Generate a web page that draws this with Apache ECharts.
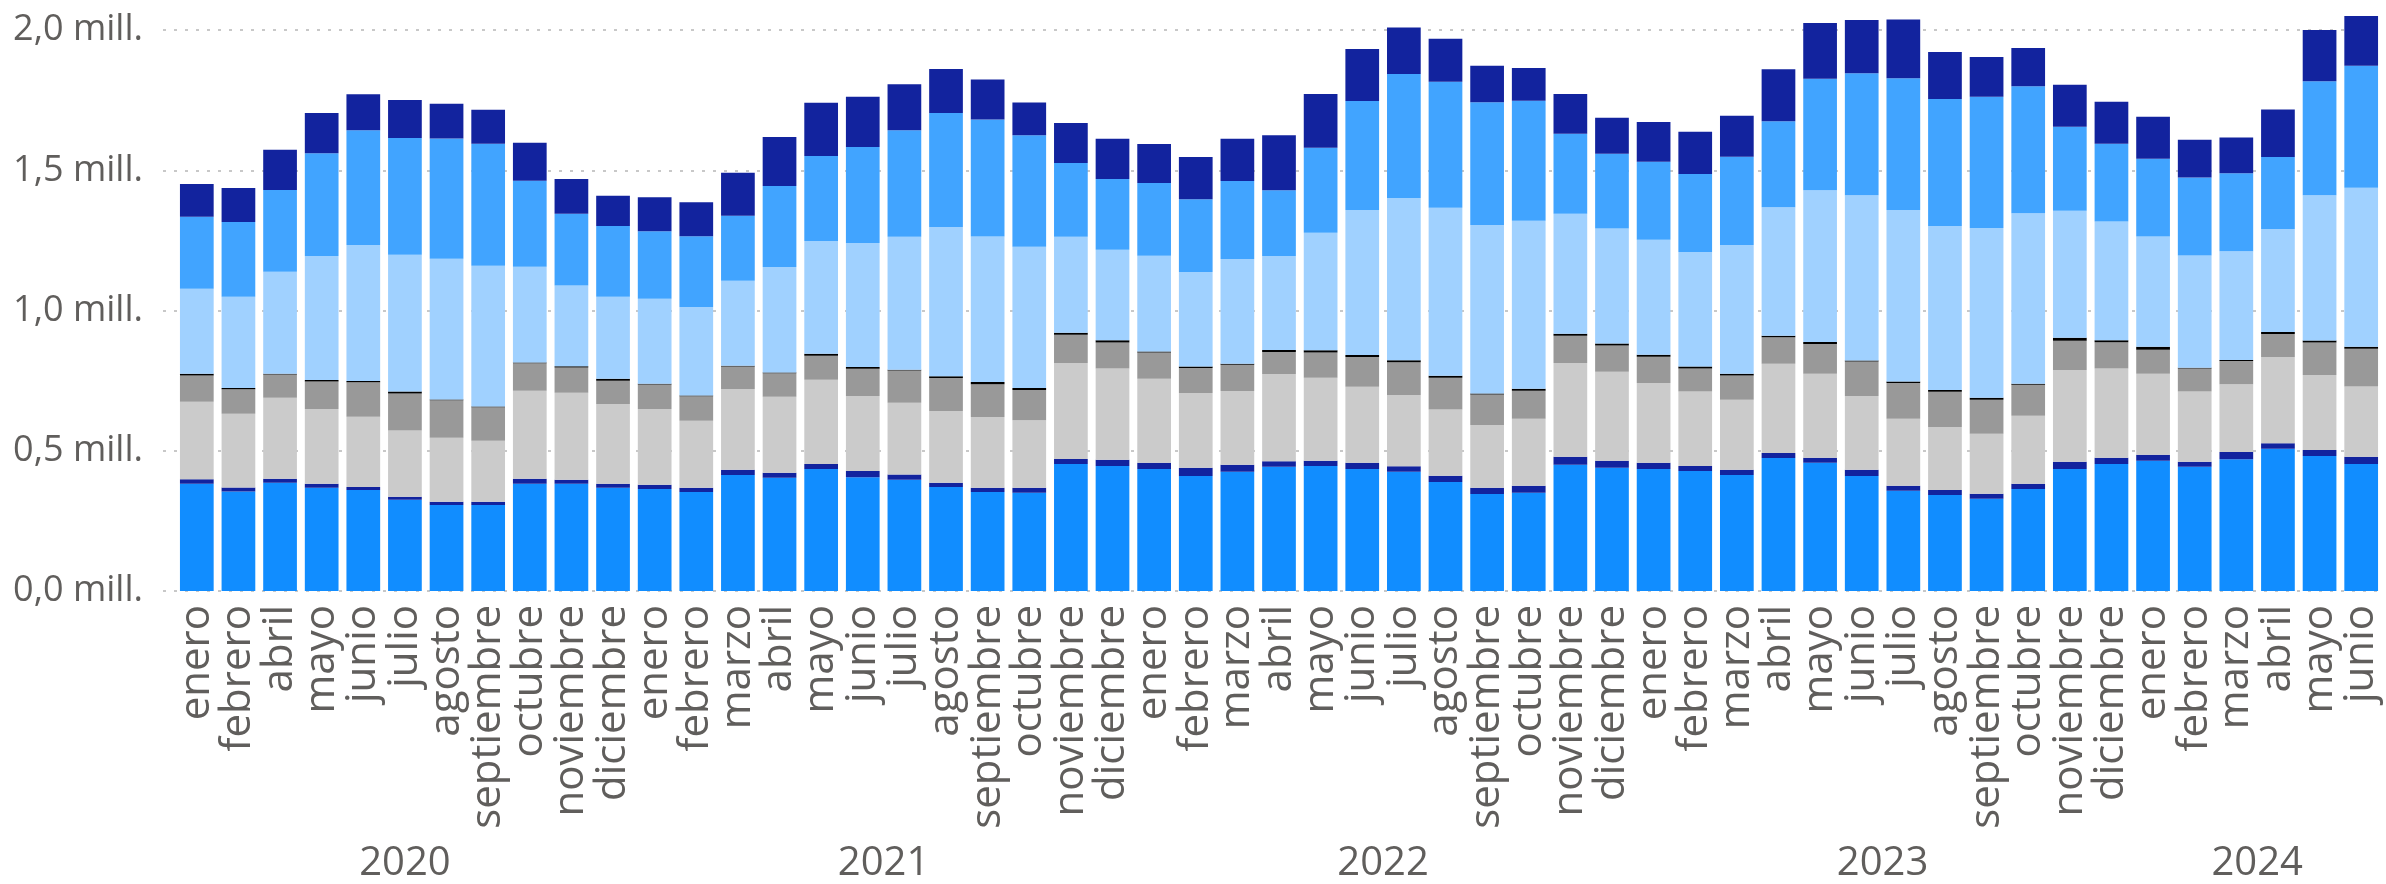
<!DOCTYPE html>
<html>
<head>
<meta charset="utf-8">
<script src="https://cdn.jsdelivr.net/npm/echarts@6/dist/echarts.min.js"></script>
<style>
  html, body { margin: 0; padding: 0; background: #ffffff; }
  #chart { width: 2386px; height: 884px; }
</style>
</head>
<body>
<div id="chart"></div>
<script>
// Monthly categories (2020 has no "marzo")
const months = [
  'enero','febrero','abril','mayo','junio','julio','agosto','septiembre','octubre','noviembre','diciembre',
  'enero','febrero','marzo','abril','mayo','junio','julio','agosto','septiembre','octubre','noviembre','diciembre',
  'enero','febrero','marzo','abril','mayo','junio','julio','agosto','septiembre','octubre','noviembre','diciembre',
  'enero','febrero','marzo','abril','mayo','junio','julio','agosto','septiembre','octubre','noviembre','diciembre',
  'enero','febrero','marzo','abril','mayo','junio'
];
const years = ['2020', '2021', '2022', '2023', '2024'];
const monthsPerYear = [11, 12, 12, 12, 6];
const yTicks = [0, 500, 1000, 1500, 2000];

// Stacked components, in thousands, bottom to top
const serie1 = [382,355,386,368,360,325,307,307,382,382, 368,364,353,414,404,435,406,397,371,353, 350,453,446,435,410,425,443,446,435,425, 389,346,350,450,439,435,428,414,474,457, 410,357,342,329,364,435,453,464,443,470, 507,481,453];
const serie2 = [16,14,14,14,11,11,11,11,18,15, 14,15,15,18,18,18,22,18,15,15, 18,18,22,22,29,25,20,18,22,20, 22,22,25,29,25,22,18,18,18,18, 22,18,18,18,18,26,22,22,18,26, 20,22,26];
const serie3 = [277,263,289,267,250,236,228,218,314,310, 285,270,239,288,271,300,267,256,256,252, 241,342,325,300,267,263,311,296,271,254, 236,224,239,334,318,285,265,250,318,300, 263,239,225,214,243,327,318,289,250,241, 307,267,250];
const serie4 = [93,87,83,98,123,132,134,119,98,90, 83,87,87,80,83,86,97,115,117,117, 108,101,93,93,89,94,78,90,106,117, 113,109,100,97,93,93,82,86,95,106, 123,128,125,121,110,104,94,85,82,83, 82,116,135];
const serie5 = [7,5,3,5,5,7,3,3,3,4, 7,3,3,3,3,7,7,3,7,8, 7,7,8,4,5,3,7,8,7,7, 7,3,7,7,7,7,7,7,5,7, 4,5,7,7,4,11,7,11,3,4, 7,7,7];
const serie6 = [303,325,363,442,485,488,502,502,341,288, 292,303,316,303,376,402,442,474,532,519, 503,342,323,341,337,374,335,419,517,578, 599,601,599,428,410,410,409,459,458,541, 589,611,584,605,608,453,423,393,400,387, 368,518,567];
const serie7 = [256,267,292,367,409,416,428,435,307,256, 252,241,252,232,289,303,342,380,406,417, 398,263,252,260,260,278,235,303,389,442, 450,438,428,285,267,278,278,314,307,397, 435,470,453,468,453,299,278,277,278,278, 256,406,435];
const serie8 = [117,121,143,143,128,136,124,121,135,124, 108,121,121,153,175,190,179,164,157,143, 117,143,143,139,150,150,196,192,185,166, 153,130,117,142,128,142,150,146,185,199, 190,210,168,142,136,150,149,150,135,128, 170,183,177];

const seriesDefs = [
  { name: 'Componente 1', data: serie1, color: '#118DFF' },
  { name: 'Componente 2', data: serie2, color: '#12239E' },
  { name: 'Componente 3', data: serie3, color: '#CBCBCB' },
  { name: 'Componente 4', data: serie4, color: '#999999' },
  { name: 'Componente 5', data: serie5, color: '#000000' },
  { name: 'Componente 6', data: serie6, color: '#A0D1FF' },
  { name: 'Componente 7', data: serie7, color: '#41A4FF' },
  { name: 'Componente 8', data: serie8, color: '#12239E' }
];

// Centre of each year group along the month axis
const yearCenters = [];
let start = 0;
monthsPerYear.forEach(function (n) { yearCenters.push(start + n / 2); start += n; });

const textColor = '#605E5C';
const fontFamily = '"Open Sans", "Noto Sans", sans-serif';
const yMax = 2100;

const fmtMill = function (v) {
  if (yTicks.indexOf(v) < 0) return '';
  return (v / 1000).toFixed(1).replace('.', ',') + ' mill.';
};

const chart = echarts.init(document.getElementById('chart'), null, { renderer: 'canvas' });

chart.setOption({
  animation: false,
  backgroundColor: '#ffffff',
  grid: [
    { left: 176, right: 4, top: 2, bottom: 293, outerBoundsMode: 'none', containLabel: false },
    { left: 163, right: 4, top: 2, bottom: 293, outerBoundsMode: 'none', containLabel: false }
  ],
  xAxis: [
    {
      type: 'category', gridIndex: 0, data: months,
      axisLine: { show: false }, axisTick: { show: false },
      axisLabel: {
        interval: 0, rotate: 90, margin: 14,
        color: textColor, fontSize: 42, fontFamily: fontFamily
      }
    },
    {
      type: 'value', gridIndex: 0, min: 0, max: months.length,
      position: 'bottom',
      axisLine: { show: false }, axisTick: { show: false }, splitLine: { show: false },
      axisLabel: {
        customValues: yearCenters, margin: 253,
        color: textColor, fontSize: 40, fontFamily: fontFamily,
        formatter: function (v) {
          const i = yearCenters.indexOf(v);
          return i >= 0 ? years[i] : '';
        }
      }
    },
    { type: 'value', gridIndex: 1, min: 0, max: 1, show: false }
  ],
  yAxis: [
    { type: 'value', gridIndex: 0, min: 0, max: yMax, interval: 500, show: false },
    {
      type: 'value', gridIndex: 1, min: 0, max: yMax, interval: 500,
      axisLine: { show: false }, axisTick: { show: false },
      axisLabel: {
        margin: 20, color: textColor, fontSize: 36, fontFamily: fontFamily,
        formatter: fmtMill
      },
      splitLine: {
        show: true, showMaxLine: false,
        lineStyle: { color: '#C8C8C8', width: 2, type: [3, 8] }
      }
    }
  ],
  series: seriesDefs.map(function (s) {
    return {
      name: s.name, type: 'bar', stack: 'total',
      xAxisIndex: 0, yAxisIndex: 0,
      barCategoryGap: '19%',
      itemStyle: { color: s.color },
      emphasis: { disabled: true },
      data: s.data
    };
  })
});
</script>
</body>
</html>
